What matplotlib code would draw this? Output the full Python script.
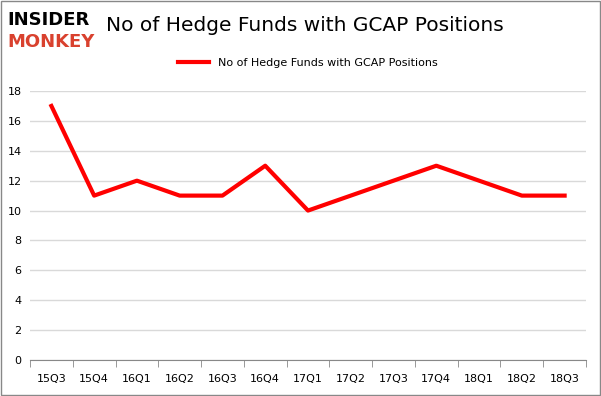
import matplotlib.pyplot as plt
import numpy as np

# Quarterly hedge fund counts for GCAP
quarters = ['15Q3', '15Q4', '16Q1', '16Q2', '16Q3', '16Q4', '17Q1',
            '17Q2', '17Q3', '17Q4', '18Q1', '18Q2', '18Q3']
funds = [17, 11, 12, 11, 11, 13, 10, 11, 12, 13, 12, 11, 11]
y_ticks = [0, 2, 4, 6, 8, 10, 12, 14, 16, 18]

fig = plt.figure(figsize=(6.01, 3.96), dpi=100)
ax = fig.add_axes([30 / 601, 36 / 396, 556 / 601, 269 / 396])

x = np.arange(len(quarters))
ax.plot(x, funds, color='#ff0000', linewidth=3, label='No of Hedge Funds with GCAP Positions')

ax.set_xlim(-0.5, len(quarters) - 0.5)
ax.set_ylim(0, 18)
ax.set_yticks(y_ticks)
ax.set_xticks(x)
ax.set_xticklabels(quarters)
ax.set_xticks(np.arange(-0.5, len(quarters)), minor=True)
ax.tick_params(axis='x', which='major', length=0, pad=10, labelsize=8)
ax.tick_params(axis='x', which='minor', length=5, color='#888888')
ax.tick_params(axis='y', length=0, labelsize=8, pad=6)
ax.grid(axis='y', color='#d9d9d9', linewidth=1)
ax.set_axisbelow(True)
for s in ['top', 'right', 'left']:
    ax.spines[s].set_visible(False)
ax.spines['bottom'].set_color('#888888')

ax.legend(loc='upper center', bbox_to_anchor=(0.5, 1.16), frameon=False,
          fontsize=8, handlelength=2.8)

fig.text(0.177, 0.935, 'No of Hedge Funds with GCAP Positions', ha='left',
         va='center', fontsize=14.5)
fig.text(0.012, 0.95, 'INSIDER', fontsize=13, fontweight='heavy', color='black',
         va='center', family='DejaVu Sans')
fig.text(0.012, 0.895, 'MONKEY', fontsize=13, fontweight='heavy', color='#d9412e',
         va='center', family='DejaVu Sans')

fig.patches.append(plt.Rectangle((0.002, 0.002), 0.996, 0.996, transform=fig.transFigure,
                                 fill=False, edgecolor='#888888', linewidth=1))

fig.savefig('out.png', dpi=100)
